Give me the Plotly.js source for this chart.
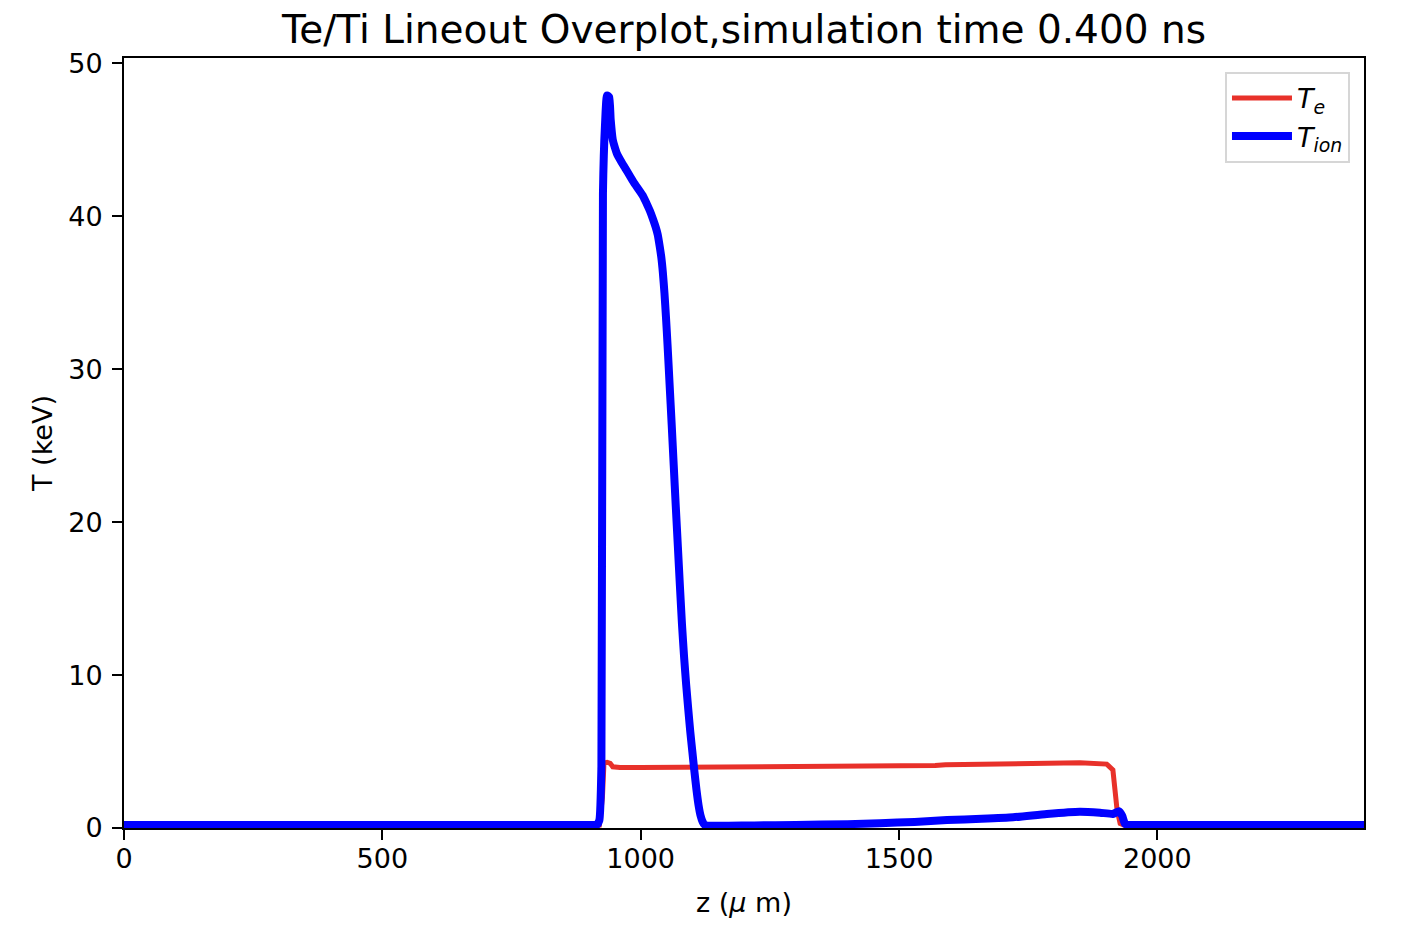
<!DOCTYPE html>
<html>
<head>
<meta charset="utf-8">
<script src="https://cdn.plot.ly/plotly-3.0.1.min.js"></script>
<style>html,body{margin:0;padding:0;background:#fff;}#chart{width:1416px;height:928px;}</style>
</head>
<body>
<div id="chart"></div>
<script>
// Electron temperature T_e (keV) vs z (um)
const zTe = [0, 920, 926, 929, 935, 941, 946, 960, 1000, 1200, 1400, 1463, 1570, 1590, 1657, 1750, 1850, 1902, 1914, 1918, 1922, 1928, 1935, 2400];
const Te  = [0.2, 0.2, 2.0, 4.25, 4.3, 4.23, 4.0, 3.96, 3.95, 3.97, 4.03, 4.05, 4.08, 4.13, 4.18, 4.22, 4.27, 4.18, 3.8, 2.5, 1.2, 0.3, 0.2, 0.2];

// Ion temperature T_ion (keV) vs z (um)
const zTi = [0, 300, 600, 800, 880, 905, 915, 920, 924, 927, 931, 935, 939, 942, 946, 950, 954, 962, 970, 978, 986, 995, 1005, 1012, 1018, 1024, 1029, 1033, 1037, 1040, 1043, 1046, 1049, 1052, 1056, 1060, 1064, 1068, 1072, 1076, 1080, 1084, 1088, 1092, 1096, 1100, 1104, 1108, 1112, 1116, 1120, 1124, 1130, 1140, 1170, 1220, 1300, 1400, 1463, 1530, 1593, 1660, 1721, 1786, 1850, 1889, 1914, 1926, 1932, 1937, 1942, 1950, 1980, 2050, 2200, 2400];
const Ti  = [0.2, 0.2, 0.2, 0.2, 0.2, 0.2, 0.2, 0.5, 4.0, 41.5, 46.0, 47.9, 47.8, 46.3, 45.0, 44.5, 44.1, 43.6, 43.15, 42.7, 42.25, 41.8, 41.3, 40.8, 40.35, 39.8, 39.3, 38.8, 38.0, 37.3, 36.3, 35.0, 33.4, 31.6, 29.0, 26.4, 23.7, 21.0, 18.4, 15.8, 13.3, 11.2, 9.4, 7.8, 6.3, 5.0, 3.7, 2.5, 1.5, 0.8, 0.4, 0.2, 0.15, 0.15, 0.15, 0.17, 0.2, 0.25, 0.31, 0.4, 0.52, 0.6, 0.7, 0.92, 1.07, 1.0, 0.92, 1.09, 0.8, 0.3, 0.2, 0.2, 0.2, 0.2, 0.2, 0.2];

const xTicks = [0, 500, 1000, 1500, 2000];
const yTicks = [0, 10, 20, 30, 40, 50];

const FONT = 'DejaVu Sans, sans-serif';

const traces = [
  {x: zTe, y: Te, type: 'scatter', mode: 'lines', name: '<i>T</i><sub><i>e</i></sub>',
   line: {color: '#e8312a', width: 5}},
  {x: zTi, y: Ti, type: 'scatter', mode: 'lines', name: '<i>T</i><sub><i>ion</i></sub>',
   line: {color: '#0000ff', width: 8, shape: 'spline', smoothing: 0.5}}
];

const axisCommon = {
  showline: true, mirror: true, linecolor: '#000', linewidth: 2,
  ticks: 'outside', ticklen: 10, tickwidth: 2, tickcolor: '#000',
  showgrid: false, zeroline: false,
  tickfont: {family: FONT, size: 27, color: '#000'}
};

const layout = {
  width: 1416, height: 928,
  paper_bgcolor: '#fff', plot_bgcolor: '#fff',
  margin: {l: 124, r: 52, t: 58, b: 100},
  font: {family: FONT, color: '#000'},
  title: {text: 'Te/Ti Lineout Overplot,simulation time 0.400 ns',
          font: {family: FONT, size: 39, color: '#000'},
          x: 0.5, xref: 'paper', y: 1 - 29/928, yref: 'container', yanchor: 'middle'},
  xaxis: Object.assign({}, axisCommon, {
    range: [0, 2400], tickvals: xTicks, ticktext: xTicks.map(String),
    ticklabelstandoff: -4,
    title: {text: 'z (<i>μ</i> m)', font: {family: FONT, size: 27, color: '#000'}, standoff: 20}
  }),
  yaxis: Object.assign({}, axisCommon, {
    range: [0, 50.35], tickvals: yTicks, ticktext: yTicks.map(String),
    ticklabelstandoff: 4,
    title: {text: 'T (keV)', font: {family: FONT, size: 27, color: '#000'}, standoff: 8}
  }),
  legend: {
    x: 0.9887, xanchor: 'right', y: 0.982, yanchor: 'top',
    bgcolor: 'rgba(255,255,255,0.8)', bordercolor: '#d6d6d6', borderwidth: 2,
    font: {family: FONT, size: 27, color: '#000'},
    itemwidth: 60
  },
  showlegend: true
};

Plotly.newPlot('chart', traces, layout, {displayModeBar: false, staticPlot: true});
</script>
</body>
</html>
